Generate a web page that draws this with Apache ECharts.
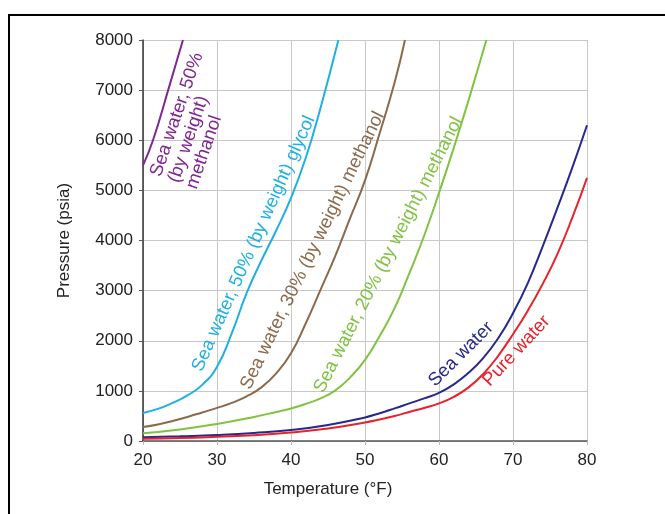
<!DOCTYPE html>
<html>
<head>
<meta charset="utf-8">
<script src="https://cdn.jsdelivr.net/npm/echarts@6/dist/echarts.min.js"></script>
<style>
html,body{margin:0;padding:0;background:#fff;}
#c{width:665px;height:514px;}
</style>
</head>
<body>
<div id="c"></div>
<script>
// ---- data (Temperature °F, Pressure psia) ----
const xTicks = [20, 30, 40, 50, 60, 70, 80];
const yTicks = [0, 1000, 2000, 3000, 4000, 5000, 6000, 7000, 8000];

const methanol50T = [20, 21.35, 23.4, 25.4];
const methanol50P = [5500, 6000, 7000, 8000];

const glycol50T = [20, 22, 24, 26, 28, 30, 32, 34, 36, 38, 40, 42, 44, 46.4];
const glycol50P = [560, 640, 760, 910, 1120, 1480, 2150, 2950, 3600, 4200, 4850, 5650, 6650, 8000];

const methanol30T = [20, 22, 24, 26, 28, 30, 32, 34, 36, 38, 40, 42, 44, 46, 48, 50, 52, 54, 55.4];
const methanol30P = [280, 330, 400, 480, 570, 660, 760, 890, 1070, 1350, 1750, 2350, 3020, 3700, 4450, 5200, 6150, 7150, 8000];

const methanol20T = [20, 25, 30, 35, 38, 40, 42, 44, 46, 48, 50, 52, 54, 56, 58, 60, 62, 64, 66.4];
const methanol20P = [155, 230, 340, 480, 580, 650, 740, 850, 1010, 1270, 1620, 2100, 2650, 3350, 4100, 4950, 5850, 6800, 8000];

const seaT = [20, 25, 30, 35, 40, 45, 50, 52, 54, 56, 58, 60, 62, 64, 66, 68, 70, 72, 74, 76, 78, 80];
const seaP = [75, 95, 120, 160, 220, 320, 470, 555, 650, 750, 850, 960, 1130, 1360, 1660, 2050, 2550, 3150, 3880, 4650, 5450, 6300];

const pureT = [20, 25, 30, 35, 40, 45, 50, 52, 54, 56, 58, 60, 62, 64, 66, 68, 70, 72, 74, 76, 78, 80];
const pureP = [45, 60, 85, 115, 170, 250, 370, 430, 500, 580, 660, 750, 880, 1070, 1340, 1700, 2130, 2600, 3130, 3730, 4450, 5250];

const seriesNames = [
  'Sea water, 50% (by weight) methanol',
  'Sea water, 50% (by weight) glycol',
  'Sea water, 30% (by weight) methanol',
  'Sea water, 20% (by weight) methanol',
  'Sea water',
  'Pure water'
];
const seriesColors = ['#80288f', '#1fb0e2', '#8b6a4c', '#80c242', '#27288c', '#e8222b'];
const seriesT = [methanol50T, glycol50T, methanol30T, methanol20T, seaT, pureT];
const seriesP = [methanol50P, glycol50P, methanol30P, methanol20P, seaP, pureP];

// curve labels: text, anchor (T, P), angle in degrees
const labelTexts = [
  'Sea water, 50%\n(by weight)\nmethanol',
  'Sea water, 50% (by weight) glycol',
  'Sea water, 30% (by weight) methanol',
  'Sea water, 20% (by weight) methanol',
  'Sea water',
  'Pure water'
];
const labelT = [27.8, 28.5, 35.0, 44.9, 59.9, 67.3];
const labelP = [4980, 1330, 970, 905, 1010, 1015];
const labelAngle = [71, 66, 64, 63, 45, 47];

const FONT = '"Liberation Sans", Arial, Helvetica, sans-serif';

const chart = echarts.init(document.getElementById('c'), null, {renderer: 'canvas'});

const series = seriesNames.map((name, i) => ({
  name: name,
  type: 'line',
  smooth: 0.5,
  symbol: 'none',
  clip: true,
  lineStyle: {color: seriesColors[i], width: 2},
  itemStyle: {color: seriesColors[i]},
  data: seriesT[i].map((t, j) => [t, seriesP[i][j]]),
  z: 3
}));

chart.setOption({
  animation: false,
  backgroundColor: '#fff',
  grid: {left: 143, right: 78, top: 40, bottom: 73, containLabel: false},
  xAxis: {
    type: 'value',
    min: xTicks[0], max: xTicks[xTicks.length - 1], interval: 10,
    name: 'Temperature (\u00b0F)',
    nameLocation: 'middle',
    nameGap: 40,
    nameTextStyle: {fontFamily: FONT, fontSize: 17, color: '#222', padding: [0, 74, 0, 0]},
    axisLine: {show: true, lineStyle: {color: '#555', width: 1.5}},
    axisTick: {show: true, length: 4, lineStyle: {color: '#bbb'}},
    axisLabel: {fontFamily: FONT, fontSize: 17, color: '#222', margin: 11, formatter: v => String(v)},
    splitLine: {show: true, lineStyle: {color: '#c8c8c8', width: 1}}
  },
  yAxis: {
    type: 'value',
    min: yTicks[0], max: yTicks[yTicks.length - 1], interval: 1000,
    name: 'Pressure (psia)',
    nameLocation: 'middle',
    nameGap: 70,
    nameTextStyle: {fontFamily: FONT, fontSize: 17, color: '#222'},
    axisLine: {show: true, lineStyle: {color: '#333', width: 1.5}},
    axisTick: {show: true, length: 4, lineStyle: {color: '#555'}},
    axisLabel: {fontFamily: FONT, fontSize: 17, color: '#222', margin: 10, formatter: v => String(v)},
    splitLine: {show: true, lineStyle: {color: '#c8c8c8', width: 1}}
  },
  series: series
});

const graphics = [{
  type: 'rect',
  shape: {x: 9, y: 15, width: 700, height: 600},
  style: {fill: 'none', stroke: '#000', lineWidth: 2},
  silent: true, z: 10
}];
labelTexts.forEach((txt, i) => {
  const p = chart.convertToPixel({gridIndex: 0}, [labelT[i], labelP[i]]);
  graphics.push({
    type: 'text',
    x: p[0], y: p[1],
    rotation: labelAngle[i] * Math.PI / 180,
    style: {
      text: txt,
      fill: seriesColors[i],
      font: '18.5px ' + FONT,
      textAlign: 'left',
      textVerticalAlign: 'bottom',
      lineHeight: 19
    },
    silent: true, z: 20
  });
});
chart.setOption({graphic: graphics});
</script>
</body>
</html>
